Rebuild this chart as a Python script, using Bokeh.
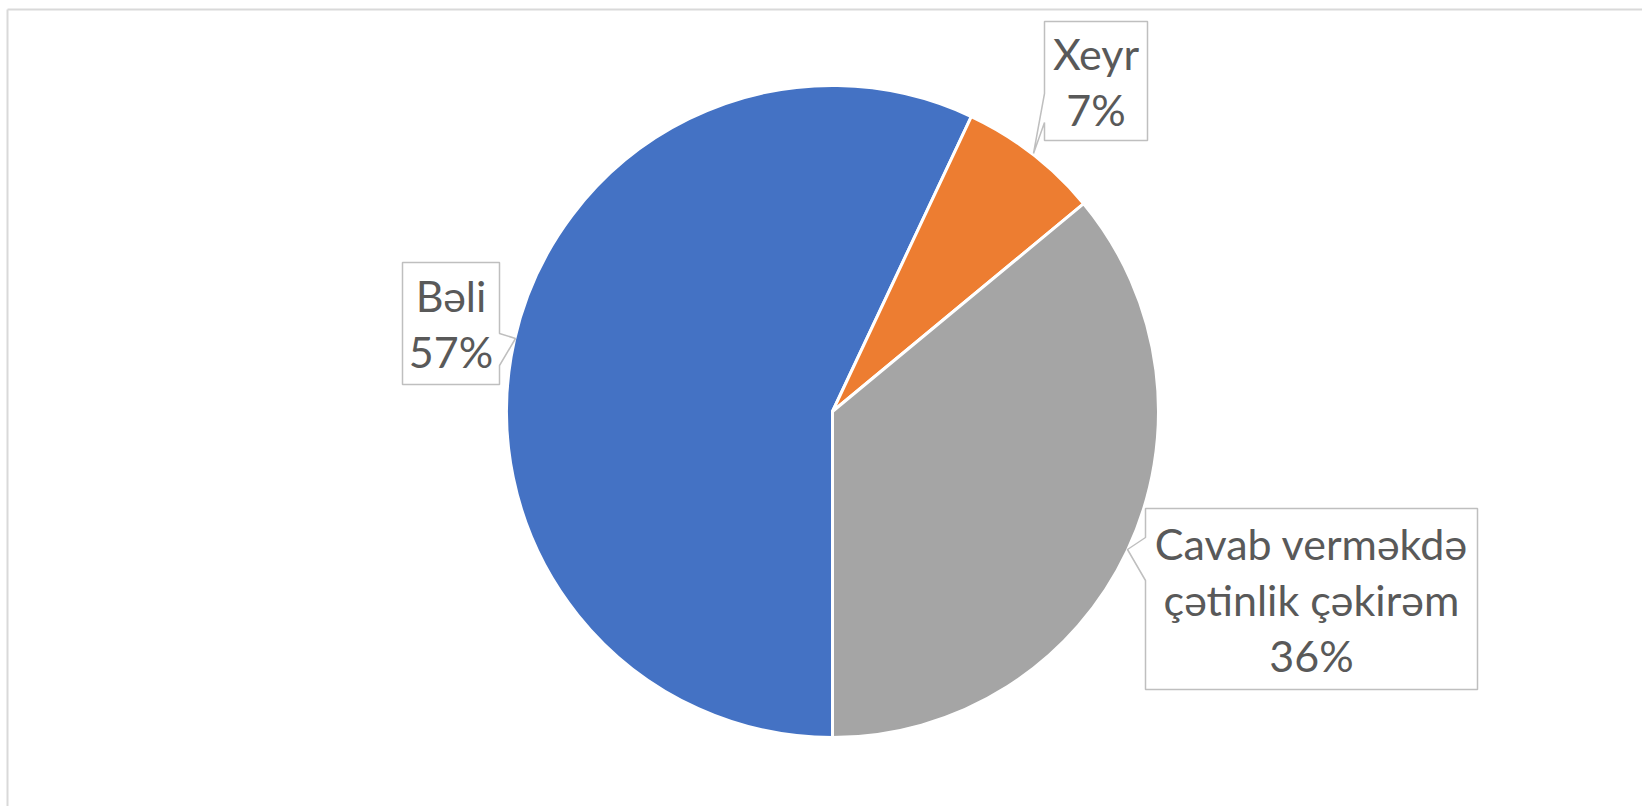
import math
from bokeh.plotting import figure
from bokeh.models import Range1d, ColumnDataSource
from bokeh.embed import file_html
from bokeh.resources import INLINE
from bokeh.core.properties import value

# ---- data ----
categories = ["Bəli", "Xeyr", "Cavab verməkdə çətinlik çəkirəm"]
label_lines = [["Bəli"], ["Xeyr"], ["Cavab verməkdə", "çətinlik çəkirəm"]]
percents = [57, 7, 36]
colors = ["#4472C4", "#ED7D31", "#A5A5A5"]
first_slice_angle = 180  # degrees, clockwise from 12 o'clock

# ---- layout ----
W, H = 1642, 806


def dx(X):
    return X


def dy(Y):
    return H - Y


p = figure(width=W, height=H, x_range=Range1d(0, W), y_range=Range1d(0, H),
           output_backend="svg", toolbar_location=None, min_border=0)
p.axis.visible = False
p.grid.visible = False
p.outline_line_color = None
p.background_fill_color = "white"
p.border_fill_color = "white"

# chart border (top & left visible)
p.segment(x0=[dx(7), dx(7)], y0=[dy(9), dy(9)], x1=[dx(7), W], y1=[dy(H + 8), dy(9)],
          line_color="#D9D9D9", line_width=2)

# ---- pie ----
cx, cy, R = dx(832), dy(411), 326
total = sum(percents)
starts, ends = [], []
acc = first_slice_angle
for v in percents:
    t1 = acc
    t2 = acc + 360.0 * v / total
    acc = t2
    starts.append(math.radians(90 - t2))
    ends.append(math.radians(90 - t1))

src = ColumnDataSource(dict(start=starts, end=ends, color=colors))
p.wedge(x=cx, y=cy, radius=R, start_angle="start", end_angle="end",
        fill_color="color", line_color="white", line_width=3, source=src)

# ---- callouts ----
boxes = [
    [(402, 262), (499, 262), (499, 333), (515, 338), (499, 365), (499, 384), (402, 384)],
    [(1044, 21), (1147, 21), (1147, 140), (1044, 140), (1044, 122), (1033, 153), (1044, 93)],
    [(1145, 508), (1477, 508), (1477, 689), (1145, 689), (1145, 580), (1127, 549), (1145, 537)],
]
box_centers = [((402 + 499) / 2, (262 + 384) / 2),
               ((1044 + 1147) / 2, (21 + 140) / 2),
               ((1145 + 1477) / 2, (508 + 689) / 2)]
for pts in boxes:
    p.patch([dx(x) for x, _ in pts], [dy(y) for _, y in pts],
            fill_color="white", line_color="#BFBFBF", line_width=1.5)

LS = 56
tx, ty, tt = [], [], []
for i, (bx, by) in enumerate(box_centers):
    lines = label_lines[i] + [f"{percents[i]}%"]
    n = len(lines)
    for j, s in enumerate(lines):
        yy = by + (j - (n - 1) / 2) * LS
        tx.append(dx(bx))
        ty.append(dy(yy))
        tt.append(s)
p.text(x=tx, y=ty, text=tt, text_align="center", text_baseline="middle",
       text_font=value("Lato"), text_font_size="43px", text_color="#595959")

open("out.html", "w").write(file_html(p, INLINE))
